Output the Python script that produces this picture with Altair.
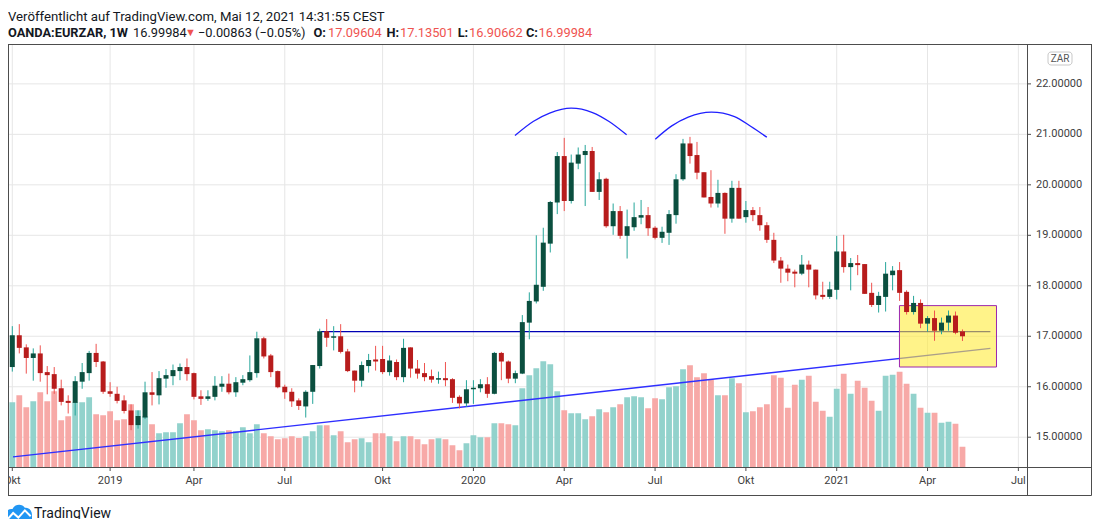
import altair as alt
import pandas as pd
import numpy as np

# ---------------- data (weekly OANDA:EURZAR) ----------------
week_start = pd.date_range("2018-10-01", periods=137, freq="W-MON").strftime("%Y-%m-%d").tolist()

open_ = [16.39, 17.02, 16.78, 16.57, 16.66, 16.29, 16.25, 15.97, 15.72, 15.68,
         16.10, 16.27, 16.67, 16.50, 15.91, 15.86, 15.73, 15.53, 15.24, 15.39,
         15.89, 15.83, 16.16, 16.21, 16.31, 16.39, 16.27, 15.81, 15.76, 15.80,
         16.00, 16.06, 15.89, 16.08, 16.13, 16.27, 16.96, 16.62, 16.31, 16.00,
         15.90, 15.73, 15.61, 15.90, 16.41, 17.10, 16.97, 17.00, 16.70, 16.32,
         16.12, 16.41, 16.54, 16.55, 16.29, 16.49, 16.19, 16.78, 16.36, 16.27,
         16.21, 16.14, 16.17, 16.15, 15.80, 15.67, 15.95, 15.97, 16.05, 15.86,
         16.67, 16.50, 16.16, 16.26, 17.27, 17.69, 17.98, 18.835, 19.65, 20.57,
         19.68, 20.42, 20.59, 20.67, 19.86, 20.12, 19.18, 19.48, 18.99, 19.16,
         19.35, 19.40, 19.15, 18.95, 19.05, 19.40, 20.11, 20.82, 20.59, 20.25,
         19.76, 19.63, 19.84, 19.33, 19.94, 19.36, 19.50, 19.40, 19.20, 18.91,
         18.50, 18.34, 18.28, 18.24, 18.42, 18.32, 17.82, 17.78, 17.92, 18.68,
         18.37, 18.45, 18.43, 17.86, 17.62, 17.78, 18.21, 18.31, 17.88, 17.48,
         17.66, 17.25, 17.36, 17.11, 17.27, 17.41, 17.09604]
high_ = [17.20, 17.24, 16.84, 16.76, 16.82, 16.41, 16.39, 16.14, 15.83, 16.21,
         16.47, 16.71, 16.85, 16.51, 16.09, 16.00, 15.83, 15.65, 15.53, 16.10,
         16.29, 16.31, 16.35, 16.44, 16.46, 16.56, 16.28, 15.93, 15.93, 16.21,
         16.21, 16.26, 16.19, 16.23, 16.62, 17.09, 16.99, 16.65, 16.32, 16.04,
         15.97, 15.77, 15.93, 16.43, 17.15, 17.34, 17.20, 17.24, 16.75, 16.32,
         16.50, 16.65, 16.81, 16.81, 16.62, 16.54, 16.95, 16.78, 16.53, 16.47,
         16.34, 16.30, 16.49, 16.17, 15.83, 16.13, 16.13, 16.15, 16.19, 16.69,
         16.69, 16.52, 16.32, 17.42, 17.87, 19.00, 19.15, 19.68, 20.65, 20.93,
         20.60, 20.74, 20.79, 20.75, 20.25, 20.14, 19.63, 19.58, 19.51, 19.65,
         19.70, 19.56, 19.18, 19.17, 19.50, 20.21, 20.91, 20.95, 20.85, 20.25,
         20.29, 20.10, 19.85, 20.08, 20.08, 19.68, 19.56, 19.56, 19.26, 19.05,
         18.57, 18.42, 18.32, 18.61, 18.50, 18.32, 18.08, 18.08, 18.99, 19.01,
         18.55, 18.61, 18.43, 18.06, 17.88, 18.47, 18.39, 18.47, 17.91, 17.80,
         17.73, 17.40, 17.51, 17.37, 17.51, 17.49, 17.13501]
low_ = [16.30, 16.66, 16.26, 16.12, 16.10, 15.85, 15.86, 15.63, 15.47, 15.43,
        15.96, 16.12, 16.39, 15.86, 15.80, 15.67, 15.47, 15.14, 15.17, 15.36,
        15.63, 15.65, 15.98, 16.03, 16.13, 16.12, 15.75, 15.64, 15.72, 15.73,
        15.90, 15.85, 15.80, 16.03, 16.10, 16.18, 16.56, 16.19, 15.97, 15.76,
        15.60, 15.54, 15.39, 15.66, 16.36, 16.79, 16.72, 16.66, 16.29, 15.89,
        16.00, 16.28, 16.32, 16.25, 16.22, 16.13, 16.09, 16.18, 16.16, 16.11,
        16.08, 16.06, 16.01, 15.68, 15.57, 15.60, 15.66, 15.89, 15.78, 15.85,
        16.13, 16.07, 16.07, 16.25, 16.94, 17.65, 17.90, 18.66, 19.42, 19.48,
        19.63, 20.31, 19.58, 19.86, 19.70, 19.15, 19.01, 18.93, 18.54, 19.09,
        19.22, 18.99, 18.92, 18.85, 18.81, 19.23, 20.08, 20.42, 20.11, 19.75,
        19.55, 19.55, 19.03, 19.25, 19.33, 19.25, 19.28, 19.09, 18.85, 18.45,
        18.06, 18.09, 17.97, 18.21, 17.97, 17.73, 17.73, 17.74, 17.73, 18.26,
        17.91, 18.21, 17.84, 17.58, 17.47, 17.49, 17.91, 17.70, 17.43, 17.43,
        17.16, 17.09, 16.91, 17.04, 17.11, 17.04, 16.90662]
close_ = [17.02, 16.77, 16.57, 16.66, 16.27, 16.23, 15.96, 15.70, 15.68, 16.11,
          16.29, 16.67, 16.49, 15.90, 15.86, 15.72, 15.52, 15.24, 15.42, 15.89,
          15.84, 16.17, 16.23, 16.33, 16.39, 16.25, 15.80, 15.76, 15.81, 16.02,
          16.06, 15.89, 16.09, 16.15, 16.29, 16.96, 16.60, 16.29, 15.99, 15.89,
          15.71, 15.62, 15.90, 16.43, 17.10, 16.97, 17.00, 16.69, 16.31, 16.12,
          16.43, 16.53, 16.50, 16.29, 16.52, 16.19, 16.77, 16.36, 16.26, 16.19,
          16.14, 16.17, 16.13, 15.78, 15.67, 15.95, 15.98, 16.05, 15.86, 16.67,
          16.50, 16.16, 16.27, 17.28, 17.70, 18.02, 18.855, 19.66, 20.57, 19.68,
          20.44, 20.60, 20.67, 19.86, 20.11, 19.18, 19.48, 18.99, 19.18, 19.36,
          19.40, 19.14, 18.95, 19.07, 19.42, 20.11, 20.82, 20.57, 20.24, 19.75,
          19.63, 19.84, 19.33, 19.94, 19.33, 19.50, 19.40, 19.20, 18.91, 18.50,
          18.34, 18.26, 18.24, 18.42, 18.32, 17.81, 17.78, 17.93, 18.68, 18.37,
          18.45, 18.41, 17.84, 17.62, 17.80, 18.24, 18.30, 17.86, 17.48, 17.66,
          17.25, 17.36, 17.11, 17.27, 17.41, 17.07, 16.99984]
volume = [194, 215, 179, 197, 224, 197, 227, 140, 152, 194,
          194, 209, 158, 155, 167, 140, 143, 188, 170, 152,
          128, 101, 104, 104, 131, 158, 140, 110, 113, 110,
          107, 110, 107, 119, 101, 128, 101, 92, 83, 86,
          92, 87, 92, 107, 125, 125, 95, 107, 74, 83,
          86, 74, 101, 101, 92, 77, 92, 92, 83, 68,
          83, 86, 83, 65, 50, 71, 95, 89, 89, 131,
          131, 128, 125, 236, 275, 296, 317, 308, 227, 170,
          161, 161, 143, 152, 173, 164, 179, 188, 209, 212,
          209, 176, 206, 203, 239, 242, 293, 305, 269, 281,
          263, 215, 215, 266, 251, 164, 167, 179, 188, 275,
          268, 178, 247, 262, 274, 196, 169, 151, 235, 280,
          220, 259, 238, 199, 169, 274, 277, 286, 250, 220,
          178, 163, 163, 133, 136, 130, 61]

tick_idx = [0, 14, 26, 39, 53, 66, 79, 92, 105, 118, 131, 144]
tick_lbl = ["Okt", "2019", "Apr", "Jul", "Okt", "2020", "Apr", "Jul", "Okt", "2021", "Apr", "Jul"]
price_ticks = [15, 16, 17, 18, 19, 20, 21, 22]

# drawings on the chart
trend_i = [0.1, 140.0]
trend_p = [14.61, 16.76]
hline_i = [44.2]
hline_i2 = [140.0]
hline_p = [17.09]
arc1_i = [71.95, 74.55, 76.91, 79.99, 83.05, 85.42, 87.93]
arc1_p = [20.976, 21.254, 21.420, 21.519, 21.432, 21.254, 20.990]
arc2_i = [92.03, 94.39, 96.75, 100.06, 103.37, 105.73, 107.99]
arc2_p = [20.905, 21.168, 21.341, 21.440, 21.353, 21.155, 20.944]
box_i = [126.98]
box_i2 = [140.87]
box_p = [17.607]
box_p2 = [16.391]

# ---------------- build chart ----------------
df = pd.DataFrame({"i": np.arange(len(open_)), "week": week_start, "open": open_,
                   "high": high_, "low": low_, "close": close_, "vol": volume})
xt = pd.DataFrame({"i": tick_idx, "lbl": tick_lbl})
yt = pd.DataFrame({"p": price_ticks})

W, H = 1019, 423
PMIN, PMAX = 14.41, 22.79
VMAX = 1269.0  # volume value that would fill the whole pane height

UP_BODY, DN_BODY = "#0b4f3f", "#b71c1c"
UP_WICK, DN_WICK = "#26a69a", "#ef5350"
UP_VOL, DN_VOL = "#92d2cc", "#f7a9a7"
GRID = "#e6e6e6"
FRAME = "#4d4d4d"
LBL = "#404040"
FONT = "Roboto"

xscale = alt.Scale(domain=[0.1, 144.52], nice=False, zero=False)
yscale = alt.Scale(domain=[PMIN, PMAX], nice=False, zero=False)


def XF(f):
    return alt.X(f, scale=xscale, axis=None)


def YF(f):
    return alt.Y(f, scale=yscale, axis=None)


is_up = "datum.close >= datum.open"

# grid + axis furniture drawn from the tick arrays through the scales
xgrid = alt.Chart(xt).mark_rule(color=GRID, strokeWidth=1).encode(
    x=XF("i:Q"), y=alt.value(0), y2=alt.value(H))
ygrid = alt.Chart(yt).mark_rule(color=GRID, strokeWidth=1).encode(
    y=YF("p:Q"), x=alt.value(0), x2=alt.value(W))
xtick = alt.Chart(xt).mark_rule(color=FRAME, strokeWidth=1).encode(
    x=XF("i:Q"), y=alt.value(H), y2=alt.value(H + 4))
xlab = alt.Chart(xt).mark_text(font=FONT, fontSize=11, color=LBL, align="center", baseline="top").encode(
    x=XF("i:Q"), y=alt.value(431), text="lbl:N")
ytick = alt.Chart(yt).mark_rule(color=FRAME, strokeWidth=1).encode(
    y=YF("p:Q"), x=alt.value(W), x2=alt.value(W + 4))
ylab = alt.Chart(yt).mark_text(font=FONT, fontSize=11, color=LBL, align="left", baseline="middle").encode(
    y=YF("p:Q"), x=alt.value(W + 9), text=alt.Text("p:Q", format=".5f"))

vol = alt.Chart(df).transform_calculate(
    vp=f"{PMIN} + datum.vol * {(PMAX - PMIN) / VMAX}"
).mark_bar(size=5.8, clip=True).encode(
    x=XF("i:Q"), y=YF("vp:Q"), y2=alt.value(H),
    color=alt.condition(is_up, alt.value(UP_VOL), alt.value(DN_VOL)),
)

trend = alt.Chart(pd.DataFrame({"i": trend_i, "p": trend_p})).mark_line(
    color="#2f2fff", strokeWidth=1.4, clip=True).encode(x=XF("i:Q"), y=YF("p:Q"))

hline = alt.Chart(pd.DataFrame({"i": hline_i, "i2": hline_i2, "p": hline_p})).mark_rule(
    color="#0000b4", strokeWidth=1.2, clip=True).encode(x=XF("i:Q"), x2="i2:Q", y=YF("p:Q"))

arc1 = alt.Chart(pd.DataFrame({"i": arc1_i, "p": arc1_p})).mark_line(
    color="#2020ff", strokeWidth=1.3, interpolate="monotone").encode(x=XF("i:Q"), y=YF("p:Q"))
arc2 = alt.Chart(pd.DataFrame({"i": arc2_i, "p": arc2_p})).mark_line(
    color="#2020ff", strokeWidth=1.3, interpolate="monotone").encode(x=XF("i:Q"), y=YF("p:Q"))

box = alt.Chart(pd.DataFrame({"i": box_i, "i2": box_i2, "p": box_p, "p2": box_p2})).mark_rect(
    fill="#ffeb3b", fillOpacity=0.6, stroke="#9c27b0", strokeWidth=1).encode(
    x=XF("i:Q"), x2="i2:Q", y=YF("p:Q"), y2="p2:Q")

wicks = alt.Chart(df).mark_rule(strokeWidth=1, clip=True).encode(
    x=XF("i:Q"), y=YF("low:Q"), y2="high:Q",
    color=alt.condition(is_up, alt.value(UP_WICK), alt.value(DN_WICK)),
)

bodies = alt.Chart(df).mark_bar(size=5, clip=True).encode(
    x=XF("i:Q"), y=YF("open:Q"), y2="close:Q",
    color=alt.condition(is_up, alt.value(UP_BODY), alt.value(DN_BODY)),
    tooltip=["week:N", "open:Q", "high:Q", "low:Q", "close:Q"],
)

# ---------------- frame, header and footer ----------------
one = alt.Data(values=[{"d": 0}])


def hrule(y, x1, x2, color=FRAME):
    return alt.Chart(one).mark_rule(color=color, strokeWidth=1).encode(
        x=alt.value(x1), x2=alt.value(x2), y=alt.value(y))


def vrule(x, y1, y2, color=FRAME):
    return alt.Chart(one).mark_rule(color=color, strokeWidth=1).encode(
        x=alt.value(x), y=alt.value(y1), y2=alt.value(y2))


def txt(s, x, y, size=12.8, color="#131722", weight="normal", align="left"):
    return alt.Chart(one).mark_text(text=s, font=FONT, fontSize=size, color=color,
                                    fontWeight=weight, align=align, baseline="middle").encode(
        x=alt.value(x), y=alt.value(y))


RIGHT = 1083.5
cover = alt.Chart(one).mark_rect(color="white").encode(
    x=alt.value(W + 0.5), x2=alt.value(RIGHT), y=alt.value(H + 1), y2=alt.value(451))
frame = [
    cover,
    hrule(0.5, 0, RIGHT), hrule(H + 0.5, 0, RIGHT), hrule(451.5, 0, RIGHT),
    vrule(0.5, 0, 451.5), vrule(W + 0.5, 0, 451.5), vrule(RIGHT, 0, 451.5),
]

badge = [
    alt.Chart(one).mark_rect(fill="white", stroke="#c8c8c8", strokeWidth=1, cornerRadius=3).encode(
        x=alt.value(1040), x2=alt.value(1064), y=alt.value(8), y2=alt.value(21)),
    txt("ZAR", 1052, 14.8, size=10, color="#555555", align="center"),
]

RED = "#ef5350"
header = [
    txt("Veröffentlicht auf TradingView.com, Mai 12, 2021 14:31:55 CEST", 0, -27.5, size=13.2),
    txt("OANDA:EURZAR, 1W", 0, -11.5, weight="bold"),
    txt("16.99984", 125, -11.5),
    txt("▼", 177, -11.5, size=11, color=RED),
    txt("−0.00863 (−0.05%)", 190, -11.5),
    txt("O:", 305.5, -11.5, weight="bold"),
    txt("17.09604", 320, -11.5, color=RED),
    txt("H:", 378.5, -11.5, weight="bold"),
    txt("17.13501", 392, -11.5, color=RED),
    txt("L:", 449.7, -11.5, weight="bold"),
    txt("16.90662", 461, -11.5, color=RED),
    txt("C:", 518, -11.5, weight="bold"),
    txt("16.99984", 530.5, -11.5, color=RED),
]

logo_path = ("M -1 0.62 L -1 0.15 C -1 -0.2 -0.75 -0.35 -0.5 -0.3 C -0.35 -0.7 0.25 -0.75 0.45 -0.4 "
             "C 0.8 -0.45 1 -0.15 1 0.15 L 1 0.62 Z")
wave_path = "M -0.85 0.45 L -0.45 0.0 L -0.05 0.35 L 0.45 -0.2 L 0.9 0.25"
footer = [
    alt.Chart(one).mark_point(shape=logo_path, filled=True, size=676, color="#2196f3", opacity=1).encode(
        x=alt.value(11), y=alt.value(469)),
    alt.Chart(one).mark_point(shape=wave_path, filled=False, size=676, stroke="white",
                              strokeWidth=2, opacity=1).encode(x=alt.value(11), y=alt.value(469)),
    txt("TradingView", 26, 469.5, size=14, color="#131722"),
]

chart = alt.layer(
    xgrid, ygrid, vol, trend, hline, arc1, arc2, box, wicks, bodies,
    xtick, xlab, ytick, ylab,
    *frame, *badge, *header, *footer,
).properties(
    width=W, height=H,
    autosize=alt.AutoSizeParams(type="none"),
    padding={"left": 0, "top": 36, "right": 65, "bottom": 52},
).configure_view(stroke=None)

chart.save("out.html", embed_options={"renderer": "svg", "actions": False})
